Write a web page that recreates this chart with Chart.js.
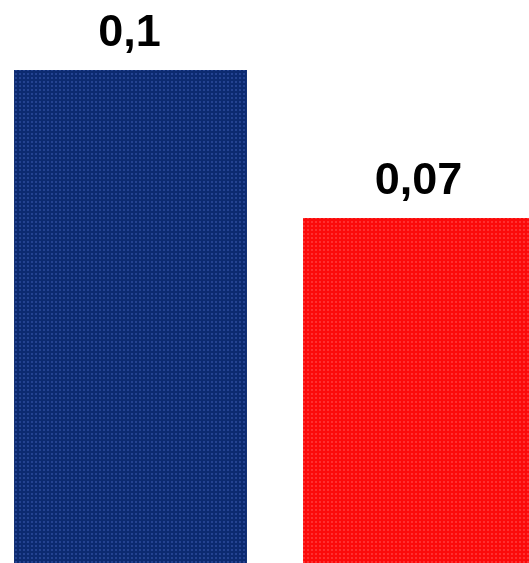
<!DOCTYPE html>
<html>
<head>
<meta charset="utf-8">
<script src="https://cdn.jsdelivr.net/npm/chart.js@4/dist/chart.umd.min.js"></script>
<style>
  html, body { margin: 0; padding: 0; background: #fff; overflow: hidden; }
  #wrap { position: relative; width: 529px; height: 563px; overflow: hidden; }
  #barChart { position: absolute; left: -14px; top: 0; }
</style>
</head>
<body>
<div id="wrap">
  <canvas id="barChart" width="578" height="563"></canvas>
</div>
<script>
const categories = ['Série 1', 'Série 2'];
const values = [0.1, 0.07];
const baseColors = ['#0c2a70', '#fb0a0a'];
const dotColors = ['#2d4c9c', '#ff3d3d'];

// petit motif pointillé comme dans l'image
function dotPattern(base, dot) {
    const c = document.createElement('canvas');
    c.width = 4;
    c.height = 4;
    const g = c.getContext('2d');
    g.fillStyle = base;
    g.fillRect(0, 0, 4, 4);
    g.fillStyle = dot;
    g.beginPath();
    g.arc(2, 2, 1, 0, Math.PI * 2);
    g.fill();
    return g.createPattern(c, 'repeat');
}

const valueLabels = {
    id: 'valueLabels',
    afterDatasetsDraw(chart) {
        const ctx = chart.ctx;
        const meta = chart.getDatasetMeta(0);
        ctx.save();
        ctx.font = 'bold 45px "Liberation Sans", Arial, sans-serif';
        ctx.fillStyle = '#000';
        ctx.textAlign = 'center';
        ctx.textBaseline = 'alphabetic';
        meta.data.forEach((bar, i) => {
            const txt = String(values[i]).replace('.', ',');
            ctx.fillText(txt, bar.x - 1, bar.y - 24);
        });
        ctx.restore();
    }
};

const ctx = document.getElementById('barChart').getContext('2d');
const patterns = baseColors.map((c, i) => dotPattern(c, dotColors[i]));

new Chart(ctx, {
    type: 'bar',
    data: {
        labels: categories,
        datasets: [{
            data: values,
            backgroundColor: patterns,
            borderWidth: 0,
            categoryPercentage: 1,
            barPercentage: 0.806
        }]
    },
    options: {
        responsive: false,
        animation: false,
        layout: { padding: 0 },
        plugins: {
            legend: { display: false },
            tooltip: { enabled: false }
        },
        scales: {
            x: { display: false },
            y: { display: false, min: 0, max: 0.1142 }
        }
    },
    plugins: [valueLabels]
});
</script>
</body>
</html>
